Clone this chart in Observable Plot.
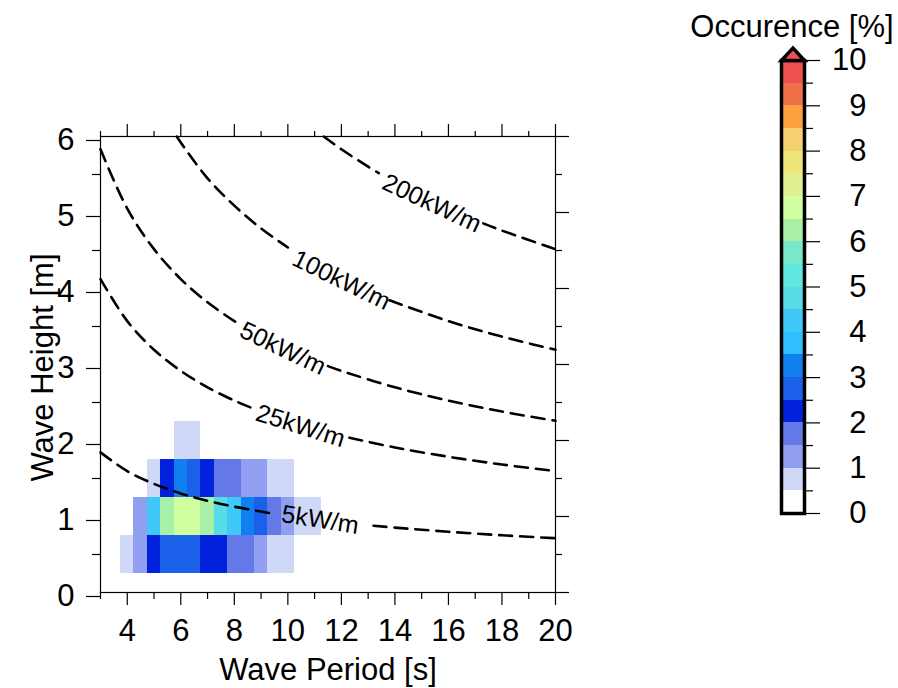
<!DOCTYPE html>
<html>
<head>
<meta charset="utf-8">
<script src="https://cdn.jsdelivr.net/npm/d3@7"></script>
<script src="https://cdn.jsdelivr.net/npm/@observablehq/plot@0.6"></script>
<style>
  html, body { margin: 0; padding: 0; background: #fff; }
  #wrap { position: relative; width: 898px; height: 688px; font-family: "Liberation Sans", Arial, sans-serif; }
  #main { position: absolute; left: 0; top: 0; }
  #cbar { position: absolute; left: 770px; top: 40px; }
  #cbtitle { position: absolute; left: 592px; width: 400px; top: 11px; text-align: center; font-size: 31px; line-height: 31px; color: #000; white-space: nowrap; }
</style>
</head>
<body>
<div id="wrap">
  <div id="main"></div>
  <div id="cbtitle">Occurence [%]</div>
  <div id="cbar"></div>
</div>
<script>
// ---- data ----
const periods = [4, 4.5, 5, 5.5, 6, 6.5, 7, 7.5, 8, 8.5, 9, 9.5, 10, 10.5, 11];
const heights = [0.5, 1.0, 1.5, 2.0];
const occurrenceH05 = [0.8, 1.3, 2.3, 2.7, 2.7, 2.7, 2.2, 2.2, 1.8, 1.7, 1.2, 0.8, 0.7, 0, 0];
const occurrenceH10 = [0, 1.2, 4.2, 6.2, 6.8, 6.8, 6.3, 4.8, 4.2, 3.2, 2.7, 1.7, 1.2, 0.7, 0.7];
const occurrenceH15 = [0, 0, 0.7, 2.2, 3.2, 2.7, 2.2, 1.7, 1.7, 1.2, 1.2, 0.7, 0.7, 0, 0];
const occurrenceH20 = [0, 0, 0, 0, 0.7, 0.7, 0, 0, 0, 0, 0, 0, 0, 0, 0];
const occurrenceRows = [occurrenceH05, occurrenceH10, occurrenceH15, occurrenceH20];

// wave power isolines (a/b = either side of label)
const contour5a = [[3, 1.844], [4, 1.597], [5, 1.429], [6, 1.304], [7, 1.207], [8, 1.129], [9, 1.065], [9.3, 1.047]];
const contour5b = [[13.2, 0.879], [14, 0.854], [16, 0.799], [18, 0.753], [20, 0.714]];
const contour25a = [[3, 4.124], [4, 3.571], [5, 3.194], [6, 2.916], [7, 2.700], [8, 2.525], [8.6, 2.436]];
const contour25b = [[12.3, 2.037], [14, 1.909], [16, 1.786], [18, 1.684], [20, 1.597]];
const contour50a = [[3, 5.832], [4, 5.051], [5, 4.518], [6, 4.124], [7, 3.818], [8, 3.571], [8.2, 3.527]];
const contour50b = [[11.5, 2.979], [12, 2.916], [14, 2.700], [16, 2.525], [18, 2.381], [20, 2.259]];
const contour100a = [[5.85, 6.0], [6, 5.92], [7, 5.45], [8, 5.09], [9, 4.79], [10, 4.54]];
const contour100b = [[13.8, 3.845], [16, 3.571], [18, 3.367], [20, 3.194]];
const contour200a = [[11.34, 6.0], [12, 5.832], [13, 5.603], [13.4, 5.519]];
const contour200b = [[17.3, 4.857], [18, 4.762], [20, 4.518]];
const contourSegments = [contour5a, contour5b, contour25a, contour25b, contour50a, contour50b,
                         contour100a, contour100b, contour200a, contour200b];

const contourLabels = ["200kW/m", "100kW/m", "50kW/m", "25kW/m", "5kW/m"];
const labelPeriod = [15.38, 12.0, 9.81, 10.47, 11.21];
const labelHeight = [5.12, 4.11, 3.21, 2.19, 0.955];
const labelAngle = [25, 26, 25.5, 17.5, 9];

// tick values
const xMajorTicks = [4, 6, 8, 10, 12, 14, 16, 18, 20];
const xMinorTicks = [3, 5, 7, 9, 11, 13, 15, 17, 19];
const yMajorTicks = [0, 1, 2, 3, 4, 5, 6];
const yMinorTicks = [0.5, 1.5, 2.5, 3.5, 4.5, 5.5];
const cbMajorTicks = [0, 1, 2, 3, 4, 5, 6, 7, 8, 9, 10];
const cbMinorTicks = [0.5, 1.5, 2.5, 3.5, 4.5, 5.5, 6.5, 7.5, 8.5, 9.5];

// colour classes (threshold scale)
const thresholds = [0.5, 1, 1.5, 2, 2.5, 3, 3.5, 4, 4.5, 5, 5.5, 6, 6.5, 7, 7.5, 8, 8.5, 9, 9.5, 10];
const classColors = ["#ffffff", "#d0d8f8", "#909ff0", "#6478e8", "#0022dd", "#1a60e8", "#1080f0",
                     "#30c0ff", "#40c8f8", "#58dce8", "#60e8e0", "#78e8c8", "#a8f0a8", "#d0ffa0",
                     "#e0f090", "#eee678", "#f5d070", "#fca040", "#f07048", "#ee5050", "#ee5050"];

// ---- build tables ----
const cells = [];
occurrenceRows.forEach((row, i) => row.forEach((v, j) => {
  if (v > 0) cells.push({T: periods[j], H: heights[i], v});
}));
const lines = [];
contourSegments.forEach((seg, k) => seg.forEach(([T, H]) => lines.push({T, H, seg: k})));
const labels = contourLabels.map((t, i) => ({t, T: labelPeriod[i], H: labelHeight[i], a: labelAngle[i]}));
const bins = thresholds.map((hi, i) => ({lo: i === 0 ? 0 : thresholds[i - 1], hi, mid: (i === 0 ? 0 : thresholds[i - 1]) / 2 + hi / 2}));

const colorScale = {type: "threshold", domain: thresholds, range: classColors};
const font = "Liberation Sans, Arial, Helvetica, sans-serif";
const blank = () => "";
const intFmt = d => String(d);
const FS = 31;

const main = Plot.plot({
  width: 898, height: 688,
  marginLeft: 100, marginRight: 343, marginTop: 136, marginBottom: 96,
  style: {fontFamily: font, background: "white", color: "black"},
  x: {domain: [3, 20], axis: null},
  y: {domain: [0, 6], axis: null},
  color: colorScale,
  marks: [
    Plot.rect(cells, {x1: d => d.T - 0.25, x2: d => d.T + 0.25, y1: d => d.H - 0.25, y2: d => d.H + 0.25,
                      fill: "v", shapeRendering: "crispEdges"}),
    Plot.line(lines, {x: "T", y: "H", z: "seg", curve: "catmull-rom", stroke: "black",
                      strokeWidth: 2.6, strokeDasharray: "13,8"}),
    Plot.text(labels, {x: "T", y: "H", text: "t", rotate: "a", fontSize: 25, fill: "black"}),
    Plot.frame({stroke: "black", strokeWidth: 1.2}),
    Plot.axisX({anchor: "bottom", ticks: xMajorTicks, tickSize: 13, tickPadding: 13, tickFormat: intFmt, fontSize: FS, label: null, strokeWidth: 1.2}),
    Plot.axisX({anchor: "bottom", ticks: xMinorTicks, tickSize: 7, tickFormat: blank, label: null, strokeWidth: 1.2}),
    Plot.axisX({anchor: "top", ticks: xMajorTicks, tickSize: 13, tickFormat: blank, label: null, strokeWidth: 1.2}),
    Plot.axisX({anchor: "top", ticks: xMinorTicks, tickSize: 6, tickFormat: blank, label: null, strokeWidth: 1.2}),
    Plot.axisY({anchor: "left", ticks: yMajorTicks, tickSize: 14, tickPadding: 12, tickFormat: intFmt, fontSize: FS, dy: 4, label: null, strokeWidth: 1.2}),
    Plot.axisY({anchor: "left", ticks: yMinorTicks, tickSize: 8, tickFormat: blank, label: null, strokeWidth: 1.2}),
    Plot.axisY({anchor: "right", ticks: yMajorTicks, tickSize: 13, tickFormat: blank, label: null, strokeWidth: 1.2}),
    Plot.axisY({anchor: "right", ticks: yMinorTicks, tickSize: 6, tickFormat: blank, label: null, strokeWidth: 1.2}),
    Plot.text(["Wave Period [s]"], {text: d => d, frameAnchor: "bottom", textAnchor: "middle", lineAnchor: "middle", dy: 78, fontSize: FS}),
    Plot.text(["Wave Height [m]"], {text: d => d, frameAnchor: "left", textAnchor: "middle", lineAnchor: "middle", dx: -57, dy: 3, rotate: -90, fontSize: FS})
  ]
});
document.getElementById("main").appendChild(main);

const flatTriangle = {
  draw(context) {
    context.moveTo(-11.5, 0);
    context.lineTo(0, -12.5);
    context.lineTo(11.5, 0);
    context.closePath();
  }
};

const cbar = Plot.plot({
  width: 128, height: 493,
  marginTop: 20, marginBottom: 20, marginLeft: 11, marginRight: 94,
  style: {fontFamily: font, background: "transparent", color: "black", overflow: "visible"},
  y: {domain: [0, 10], axis: null},
  color: colorScale,
  marks: [
    Plot.rect(bins, {y1: "lo", y2: "hi", fill: "mid", shapeRendering: "crispEdges"}),
    Plot.axisY({anchor: "right", ticks: cbMajorTicks, tickSize: 15, tickPadding: 47, textAnchor: "end", tickFormat: intFmt, fontSize: FS, label: null, strokeWidth: 1.2}),
    Plot.axisY({anchor: "right", ticks: cbMinorTicks, tickSize: 8, tickFormat: blank, label: null, strokeWidth: 1.2}),
    Plot.frame({stroke: "black", strokeWidth: 3.5}),
    Plot.dot([10.5], {y: d => 10, symbol: flatTriangle, fill: d => d, stroke: "black", strokeWidth: 3.5})
  ]
});
document.getElementById("cbar").appendChild(cbar);
</script>
</body>
</html>
